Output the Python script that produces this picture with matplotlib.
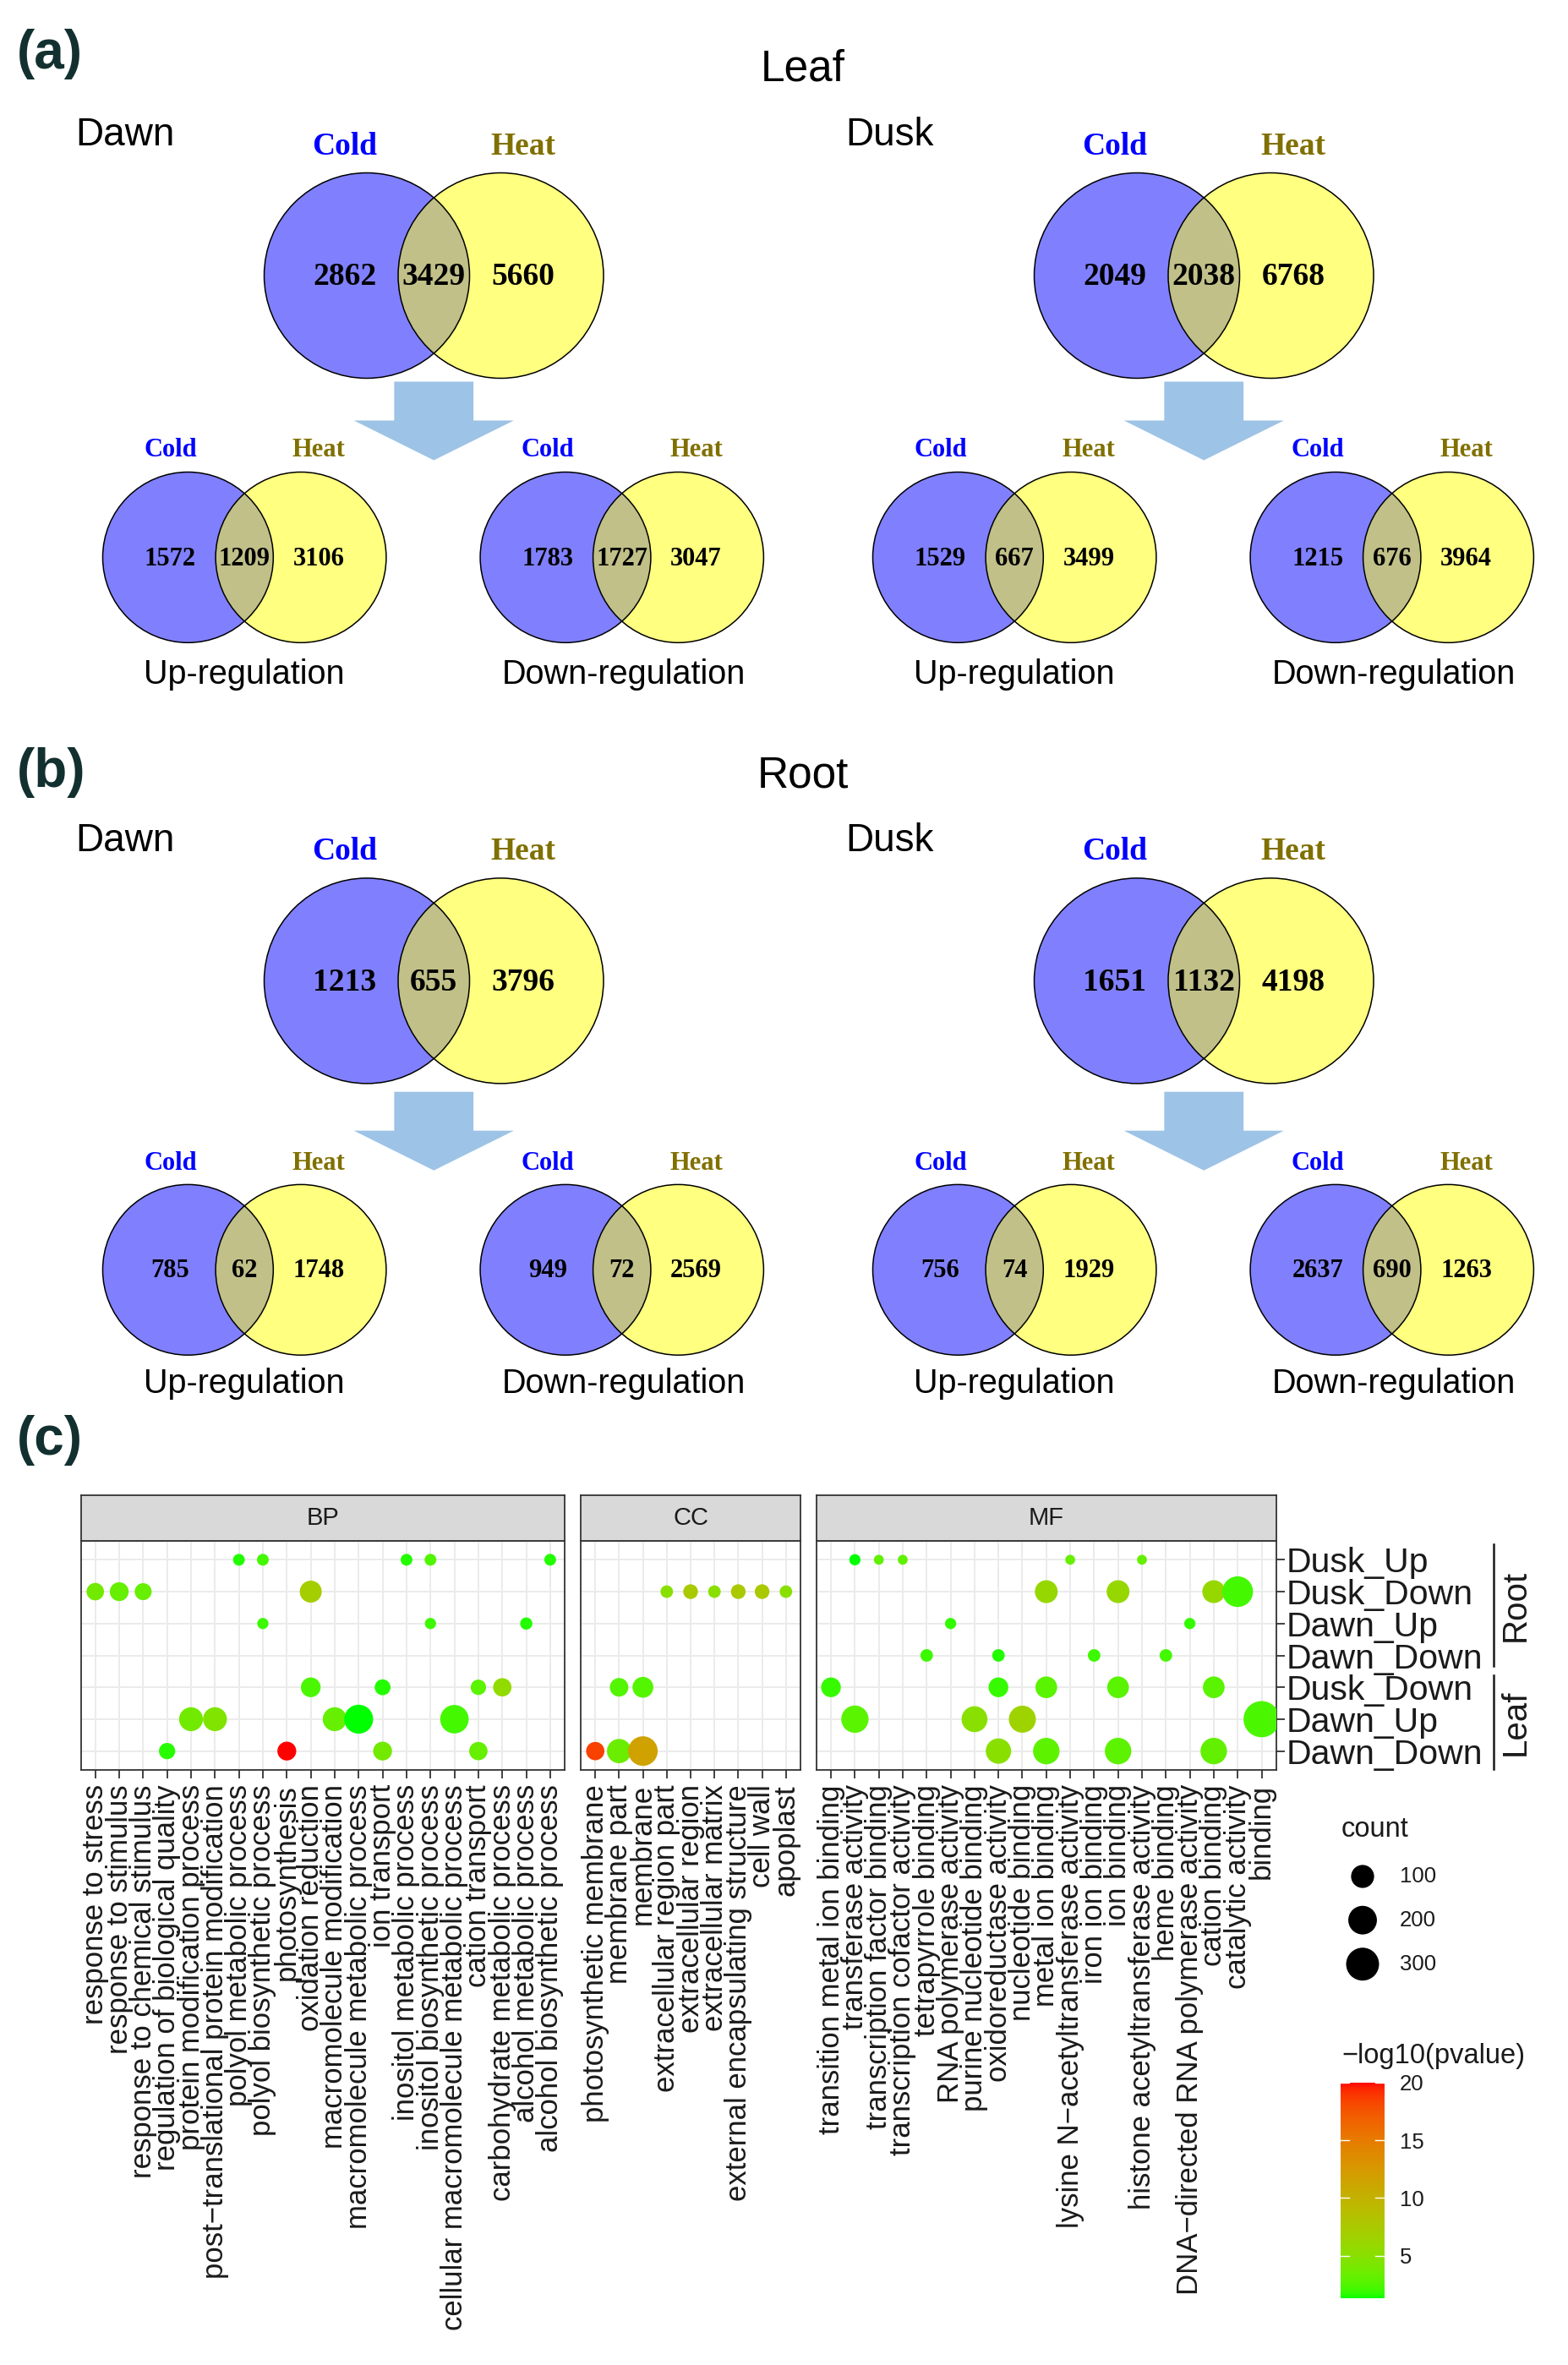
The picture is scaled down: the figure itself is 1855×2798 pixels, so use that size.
import numpy as np
import matplotlib
matplotlib.use("Agg")
import matplotlib.pyplot as plt
from matplotlib.patches import Circle, Polygon
from matplotlib.colors import ListedColormap, Normalize
from matplotlib.cm import ScalarMappable

plt.rcParams['font.family'] = ['Liberation Sans', 'DejaVu Sans']

# ---------------------------------------------------------------- data
# Venn counts: [Cold only, Cold & Heat, Heat only]
leaf_dawn_all = [2862, 3429, 5660]
leaf_dawn_up = [1572, 1209, 3106]
leaf_dawn_down = [1783, 1727, 3047]
leaf_dusk_all = [2049, 2038, 6768]
leaf_dusk_up = [1529, 667, 3499]
leaf_dusk_down = [1215, 676, 3964]
root_dawn_all = [1213, 655, 3796]
root_dawn_up = [785, 62, 1748]
root_dawn_down = [949, 72, 2569]
root_dusk_all = [1651, 1132, 4198]
root_dusk_up = [756, 74, 1929]
root_dusk_down = [2637, 690, 1263]

# GO dot plot
row_labels = ['Dusk_Up', 'Dusk_Down', 'Dawn_Up', 'Dawn_Down',
              'Dusk_Down', 'Dawn_Up', 'Dawn_Down']
row_groups = ['Root', 'Leaf']

bp_terms = ['response to stress', 'response to stimulus',
            'response to chemical stimulus', 'regulation of biological quality',
            'protein modification process', 'post\u2212translational protein modification',
            'polyol metabolic process', 'polyol biosynthetic process', 'photosynthesis',
            'oxidation reduction', 'macromolecule modification',
            'macromolecule metabolic process', 'ion transport',
            'inositol metabolic process', 'inositol biosynthetic process',
            'cellular macromolecule metabolic process', 'cation transport',
            'carbohydrate metabolic process', 'alcohol metabolic process',
            'alcohol biosynthetic process']
bp_row = [0, 0, 0, 0, 0, 1, 1, 1, 1, 2, 2, 2, 4, 4, 4, 4, 5, 5, 5, 5, 5, 6, 6, 6, 6]
bp_term = [6, 7, 13, 14, 19, 0, 1, 2, 9, 7, 14, 18, 9, 12, 16, 17, 4, 5, 10, 11, 15, 3, 8, 12, 16]
bp_count = [5, 5, 5, 5, 5, 35, 48, 31, 85, 4, 4, 6, 57, 23, 20, 43,
            113, 113, 113, 207, 197, 26, 48, 48, 43]
bp_logp = [1.6, 2.2, 1.6, 2.5, 1.6, 3.8, 3.3, 3.3, 7.0, 2.0, 2.0, 1.6,
           2.3, 1.6, 2.8, 5.5, 3.8, 4.5, 3.3, 1.4, 2.2, 1.7, 20.0, 3.8, 3.3]

cc_terms = ['photosynthetic membrane', 'membrane part', 'membrane',
            'extracellular region part', 'extracellular region',
            'extracellular matrix', 'external encapsulating structure',
            'cell wall', 'apoplast']
cc_row = [1, 1, 1, 1, 1, 1, 4, 4, 6, 6, 6]
cc_term = [3, 4, 5, 6, 7, 8, 1, 2, 0, 1, 2]
cc_count = [7, 16, 7, 16, 16, 7, 45, 70, 43, 119, 220]
cc_logp = [5.0, 7.5, 5.0, 7.5, 7.5, 5.0, 2.6, 2.6, 18.5, 3.5, 11.5]

mf_terms = ['transition metal ion binding', 'transferase activity',
            'transcription factor binding', 'transcription cofactor activity',
            'tetrapyrrole binding', 'RNA polymerase activity',
            'purine nucleotide binding', 'oxidoreductase activity',
            'nucleotide binding', 'metal ion binding',
            'lysine N\u2212acetyltransferase activity', 'iron ion binding',
            'ion binding', 'histone acetyltransferase activity', 'heme binding',
            'DNA\u2212directed RNA polymerase activity', 'cation binding',
            'catalytic activity', 'binding']
mf_row = [0, 0, 0, 0, 0, 1, 1, 1, 1, 2, 2, 3, 3, 3, 3, 4, 4, 4, 4, 4,
          5, 5, 5, 5, 6, 6, 6, 6]
mf_term = [1, 2, 3, 10, 13, 9, 12, 16, 17, 5, 15, 4, 7, 11, 14, 0, 7, 9, 12, 16,
           1, 6, 8, 18, 7, 9, 12, 16]
mf_count = [4, 3, 3, 3, 3, 97, 97, 97, 245, 4, 4, 7, 7, 7, 7, 57, 57, 81, 81, 81,
            173, 147, 168, 390, 137, 157, 157, 157]
mf_logp = [1.34, 3.0, 3.0, 3.3, 3.3, 6.0, 6.0, 6.0, 2.2, 1.8, 1.8, 2.0, 1.6, 2.0, 2.2,
           1.9, 1.9, 2.8, 2.8, 2.8, 2.8, 5.0, 6.5, 2.3, 5.0, 2.9, 2.9, 3.1]

legend_counts = [100, 200, 300]
colorbar_ticks = [5, 10, 15, 20]

# ---------------------------------------------------------------- figure
W, H, DPI = 1855, 2798, 100
fig = plt.figure(figsize=(W / DPI, H / DPI), dpi=DPI)
fig.patch.set_facecolor('white')
ov = fig.add_axes([0, 0, 1, 1])
ov.set_xlim(0, W)
ov.set_ylim(H, 0)
ov.axis('off')

BLUE, YELLOW, OLIVE = '#8080FF', '#FFFF80', '#C0C088'
COLD, HEAT, ARROW = '#0000FF', '#807000', '#9DC3E6'
SERIF = 'Liberation Serif'
LETTER = '#12302F'


def venn(cxl, cxr, cy, r, vals, num_base, lab_base, fs, dx):
    ov.add_patch(Circle((cxl, cy), r, fc=BLUE, ec='none', zorder=1))
    ov.add_patch(Circle((cxr, cy), r, fc=YELLOW, ec='none', zorder=1))
    clip = Circle((cxl, cy), r, transform=ov.transData)
    lens = Circle((cxr, cy), r, fc=OLIVE, ec='none', zorder=2)
    ov.add_patch(lens)
    lens.set_clip_path(clip)
    for cx in (cxl, cxr):
        ov.add_patch(Circle((cx, cy), r, fc='none', ec='black', lw=1.1, zorder=3))
    xs = [cxl - dx, (cxl + cxr) / 2, cxr + dx]
    for x, v in zip(xs, vals):
        ov.text(x, num_base, str(v), ha='center', va='baseline', fontsize=fs,
                family=SERIF, weight='bold', zorder=4)
    ov.text(xs[0], lab_base, 'Cold', ha='center', va='baseline', fontsize=fs,
            family=SERIF, weight='bold', color=COLD)
    ov.text(xs[2], lab_base, 'Heat', ha='center', va='baseline', fontsize=fs,
            family=SERIF, weight='bold', color=HEAT)


def arrow(cx, top):
    pts = [(cx - 46.9, top), (cx + 46.9, top), (cx + 46.9, top + 46),
           (cx + 94.6, top + 46), (cx, top + 93), (cx - 94.6, top + 46),
           (cx - 46.9, top + 46)]
    ov.add_patch(Polygon(pts, closed=True, fc=ARROW, ec='none', zorder=1))


sections = {
    'a': dict(big_cy=326, big_num=337, big_lab=183, arr=451.5, sm_cy=659.4,
              sm_num=669.4, sm_lab=540, cap=809, time=172.4,
              letter=64, title=95, title_txt='Leaf',
              data=[[leaf_dawn_all, leaf_dawn_up, leaf_dawn_down],
                    [leaf_dusk_all, leaf_dusk_up, leaf_dusk_down]]),
    'b': dict(big_cy=1160.4, big_num=1172.5, big_lab=1017, arr=1291.7, sm_cy=1502.3,
              sm_num=1511, sm_lab=1384, cap=1648, time=1007,
              letter=914, title=931, title_txt='Root',
              data=[[root_dawn_all, root_dawn_up, root_dawn_down],
                    [root_dusk_all, root_dusk_up, root_dusk_down]]),
}

for key, s in sections.items():
    ov.text(20, s['letter'], '(%s)' % key, ha='left', va='center', fontsize=46,
            family='Liberation Sans', weight='bold', color=LETTER)
    ov.text(950, s['title'], s['title_txt'], ha='center', va='baseline', fontsize=37)
    for j, tlabel in enumerate(['Dawn', 'Dusk']):
        x0 = 911 * j
        allv, upv, downv = s['data'][j]
        ov.text(89 + x0, s['time'], tlabel, ha='left', va='baseline', fontsize=33)
        venn(434 + x0, 592.5 + x0, s['big_cy'], 121.5, allv, s['big_num'],
             s['big_lab'], 27, 26.3)
        arrow(513.25 + x0, s['arr'])
        venn(222.4 + x0, 356 + x0, s['sm_cy'], 100.9, upv, s['sm_num'],
             s['sm_lab'], 22, 21)
        venn(669 + x0, 802.5 + x0, s['sm_cy'], 100.9, downv, s['sm_num'],
             s['sm_lab'], 22, 21)
        ov.text(289 + x0, s['cap'], 'Up-regulation', ha='center', va='baseline', fontsize=28.5)
        ov.text(738 + x0, s['cap'], 'Down-regulation', ha='center', va='baseline', fontsize=28.5)

ov.text(20, 1704, '(c)', ha='left', va='center', fontsize=46,
        family='Liberation Sans', weight='bold', color=LETTER)


# ---------------------------------------------------------------- colour map (Lab)
def srgb_to_lab(rgb):
    rgb = np.asarray(rgb, float)
    lin = np.where(rgb <= 0.04045, rgb / 12.92, ((rgb + 0.055) / 1.055) ** 2.4)
    M = np.array([[0.4124564, 0.3575761, 0.1804375],
                  [0.2126729, 0.7151522, 0.0721750],
                  [0.0193339, 0.1191920, 0.9503041]])
    xyz = M @ lin / np.array([0.95047, 1.0, 1.08883])
    d = 6 / 29
    f = np.where(xyz > d ** 3, np.cbrt(xyz), xyz / (3 * d * d) + 4 / 29)
    return np.array([116 * f[1] - 16, 500 * (f[0] - f[1]), 200 * (f[1] - f[2])])


def lab_to_srgb(lab):
    L, a, b = lab
    fy = (L + 16) / 116
    fx = fy + a / 500
    fz = fy - b / 200
    d = 6 / 29
    f = np.array([fx, fy, fz])
    xyz = np.where(f > d, f ** 3, 3 * d * d * (f - 4 / 29)) * np.array([0.95047, 1.0, 1.08883])
    Minv = np.array([[3.2404542, -1.5371385, -0.4985314],
                     [-0.9692660, 1.8760108, 0.0415560],
                     [0.0556434, -0.2040259, 1.0572252]])
    lin = np.clip(Minv @ xyz, 0, 1)
    rgb = np.where(lin <= 0.0031308, 12.92 * lin, 1.055 * lin ** (1 / 2.4) - 0.055)
    return np.clip(rgb, 0, 1)


lab_lo = srgb_to_lab([0, 1, 0])
lab_hi = srgb_to_lab([1, 0, 0])
cmap = ListedColormap([lab_to_srgb((1 - t) * lab_lo + t * lab_hi)
                       for t in np.linspace(0, 1, 256)])
all_logp = bp_logp + cc_logp + mf_logp
norm = Normalize(min(all_logp), max(all_logp))


def dot_size(count):
    d_px = 11.7 + 1.58 * np.sqrt(np.maximum(np.asarray(count, float) - 3, 0))
    return (d_px * 72 / DPI) ** 2


# ---------------------------------------------------------------- dot plot panels
P_TOP, P_BOT, S_TOP = 1822.7, 2094.3, 1769
TXT = '#1A1A1A'
EDGE = '#333333'
panels = [('BP', bp_terms, bp_row, bp_term, bp_count, bp_logp, 95.7, 667.9),
          ('CC', cc_terms, cc_row, cc_term, cc_count, cc_logp, 687.3, 946.7),
          ('MF', mf_terms, mf_row, mf_term, mf_count, mf_logp, 966.1, 1509.5)]

for name, terms, rr, tt, cnt, lp, x0, x1 in panels:
    ax = fig.add_axes([x0 / W, 1 - P_BOT / H, (x1 - x0) / W, (P_BOT - P_TOP) / H])
    ax.set_xlim(-0.6, len(terms) - 0.4)
    ax.set_ylim(len(row_labels) - 0.4, -0.6)
    ax.grid(True, color='#EBEBEB', lw=1.4)
    ax.set_axisbelow(True)
    ax.scatter(tt, rr, s=dot_size(cnt), c=lp, cmap=cmap, norm=norm,
               linewidths=0, zorder=3)
    ax.set_xticks(range(len(terms)))
    ax.set_xticklabels(terms, rotation=90, fontsize=25, color=TXT)
    ax.tick_params(axis='x', length=7.2, width=1.3, color=EDGE, pad=5)
    ax.set_yticks(range(len(row_labels)))
    if name == 'MF':
        ax.yaxis.tick_right()
        ax.set_yticklabels(row_labels, fontsize=29.5, color=TXT)
        ax.tick_params(axis='y', length=7.2, width=1.3, color=EDGE, pad=1.5)
    else:
        ax.tick_params(axis='y', length=0, labelleft=False, labelright=False)
    for sp in ax.spines.values():
        sp.set_color(EDGE)
        sp.set_linewidth(1.3)
    sax = fig.add_axes([x0 / W, 1 - P_TOP / H, (x1 - x0) / W, (P_TOP - S_TOP) / H])
    sax.set_facecolor('#D9D9D9')
    sax.set_xticks([])
    sax.set_yticks([])
    for sp in sax.spines.values():
        sp.set_color(EDGE)
        sp.set_linewidth(1.3)
    sax.text(0.5, 0.5, name, transform=sax.transAxes, ha='center', va='center',
             fontsize=21, color=TXT)

# group brackets
ov.plot([1766.7, 1766.7], [1827, 1971], color=TXT, lw=1.8)
ov.plot([1766.7, 1766.7], [1982, 2093], color=TXT, lw=1.8)
ov.text(1793, 1899, row_groups[0], rotation=90, ha='center', va='center', fontsize=29, color=TXT)
ov.text(1793, 2038, row_groups[1], rotation=90, ha='center', va='center', fontsize=29, color=TXT)

# size legend
ov.text(1587, 2164.6, 'count', ha='left', va='center', fontsize=23.5, color=TXT)
leg_y = [2220, 2271.7, 2323.75]
ov.scatter([1612] * 3, leg_y, s=dot_size(legend_counts), c='black', linewidths=0)
for y, c in zip(leg_y, legend_counts):
    ov.text(1656, y, str(c), ha='left', va='center', fontsize=18.5, color=TXT)

# colour bar
ov.text(1587, 2433, '\u2212log10(pvalue)', ha='left', va='center', fontsize=23.5, color=TXT)
cax = fig.add_axes([1586 / W, 1 - 2718.75 / H, 51.7 / W, 255 / H])
cb = fig.colorbar(ScalarMappable(norm=norm, cmap=cmap), cax=cax)
cb.outline.set_visible(False)
cb.set_ticks(colorbar_ticks)
cax.tick_params(length=0, pad=13, labelsize=18.5, labelcolor=TXT)
for v in colorbar_ticks:
    cax.plot([0, 0.2], [v, v], transform=cax.get_yaxis_transform(), color='white', lw=1)
    cax.plot([0.8, 1], [v, v], transform=cax.get_yaxis_transform(), color='white', lw=1)

fig.savefig('out.png', dpi=DPI, facecolor='white')
